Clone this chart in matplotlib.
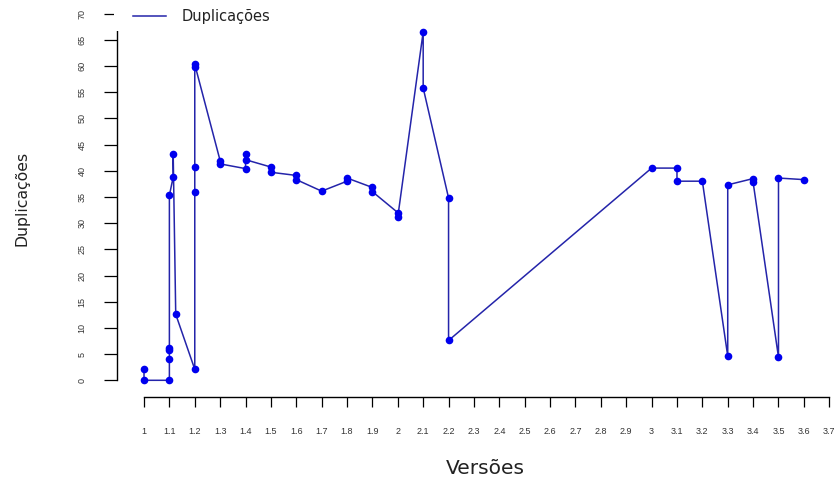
# Basic tools
import numpy             as np
import matplotlib
matplotlib.use('Agg')
import matplotlib.pyplot as plt
import matplotlib        as mpl
from matplotlib.lines   import Line2D
from matplotlib.patches import Rectangle

# Plot settings
mpl.rcParams['font.family'    ] = 'DejaVu Sans'
mpl.rcParams['axes.linewidth' ] = 1.0
mpl.rcParams['xtick.major.width'] = 0.9
mpl.rcParams['ytick.major.width'] = 0.9
figure_size = (8.34, 4.78)
png_dpi     = 100

# Data: duplications per version
versions = [1.0, 1.0, 1.1, 1.1, 1.1, 1.1, 1.1, 1.115, 1.115, 1.125,
            1.2, 1.2, 1.2, 1.2, 1.2, 1.3, 1.3, 1.4, 1.4, 1.4,
            1.5, 1.5, 1.6, 1.6, 1.7, 1.8, 1.8, 1.9, 1.9, 2.0,
            2.0, 2.1, 2.1, 2.2, 2.2, 3.0, 3.1, 3.1, 3.2, 3.3,
            3.3, 3.4, 3.4, 3.5, 3.5, 3.6]
duplications = [2.1, 0.0, 0.0, 4.1, 5.7, 6.2, 35.3, 38.8, 43.1, 12.6,
                2.1, 35.9, 40.7, 59.8, 60.3, 41.9, 41.3, 40.4, 43.1, 42.1,
                40.7, 39.7, 39.1, 38.3, 36.1, 38.0, 38.6, 36.8, 36.0, 32.0,
                31.2, 66.5, 55.8, 34.8, 7.6, 40.5, 40.5, 38.0, 38.0, 4.6,
                37.3, 38.5, 37.8, 4.4, 38.6, 38.3]

x_ticks = np.round(np.arange(1.0, 3.71, 0.1), 1)
x_labels = ['%g' % t for t in x_ticks]
y_ticks = list(range(0, 71, 5))

line_color   = '#2424aa'
marker_color = '#0000ee'

fig = plt.figure(figsize=figure_size, dpi=png_dpi)
ax  = fig.add_axes([116.7/834, 1-396.7/478, 1-116.7/834, 396.7/478])

ax.plot(versions, duplications, color=line_color, linewidth=1.1, zorder=2)
ax.plot(versions, duplications, linestyle='none', marker='o', markersize=5.5,
        color=marker_color, markeredgewidth=0, zorder=3)

# Axes in base-R style
ax.set_xlim(0.8924, 3.7187)
ax.set_ylim(-3.13, 72.58)
ax.spines['top'  ].set_visible(False)
ax.spines['right'].set_visible(False)
ax.spines['left'  ].set_bounds(0, 70)
ax.spines['bottom'].set_bounds(1, 3.7)

ax.set_xticks(x_ticks)
ax.set_xticklabels(x_labels, fontfamily='Liberation Sans')
ax.set_yticks(y_ticks)
ax.set_yticklabels([str(t) for t in y_ticks], fontfamily='Liberation Sans')
ax.tick_params(axis='x', length=7.2, pad=14.4, labelsize=6.5, labelcolor='#333333')
ax.tick_params(axis='y', length=9.6, pad=12.2, labelsize=6.5, labelcolor='#333333',
               labelrotation=90)
for lab in ax.get_yticklabels():
    lab.set_va('center')

# Axis titles
fig.text(485/834, 1-468/478, 'Versões', ha='center', va='center', fontsize=14.5, color='#222222')
fig.text(22/834, 1-198/478, 'Duplicações', ha='center', va='center', rotation=90,
         fontsize=11.3, color='#222222')

# Legend with a white box (covers the top of the y axis, as in R)
fig.add_artist(Rectangle((114/834, 1-31/478), 190/834, 31/478, transform=fig.transFigure,
                         facecolor='white', edgecolor='none', zorder=3))
handle = Line2D([], [], color=line_color, linewidth=1.1)
leg = fig.legend([handle], ['Duplicações'], loc='center left',
                 bbox_to_anchor=(133/834, 1-17/478), bbox_transform=fig.transFigure,
                 frameon=False, borderpad=0, borderaxespad=0,
                 handlelength=2.26, handletextpad=1.1, fontsize=10.5)
leg.set_zorder(5)
for t in leg.get_texts():
    t.set_color('#222222')

plt.savefig('out.png', dpi=png_dpi)
